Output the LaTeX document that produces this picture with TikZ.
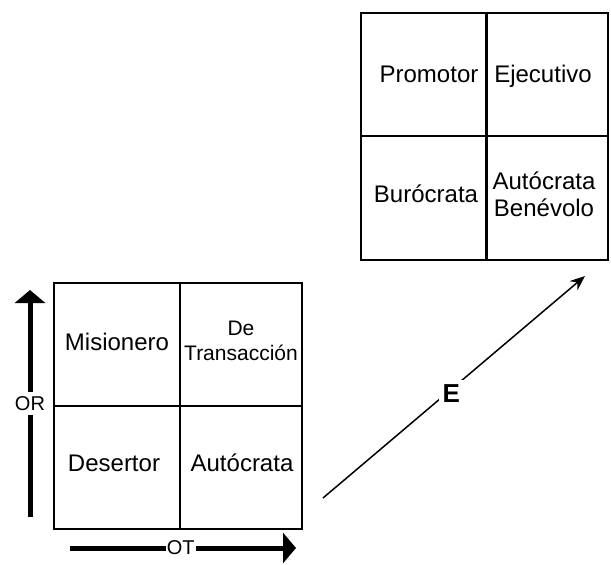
\documentclass[tikz,border=0pt]{standalone}
\usepackage{fontspec}
\setmainfont{Liberation Sans}
\usetikzlibrary{arrows.meta}

\begin{document}
\begin{tikzpicture}[x=1pt, y=-1pt,
      grid/.style={line width=2pt, draw=black},
      cell/.style={
        inner sep=0pt, align=center,
        font=\fontsize{24}{27}\selectfont
      },
      small/.style={font=\fontsize{21}{25}\selectfont},
      axis/.style={
        -{Triangle[length=13pt, width=30pt]}, line width=5pt
      },
      lbl/.style={
        fill=white, inner sep=1.5pt, font=\fontsize{20}{22}\selectfont
      },
      arr/.style={
        -{Stealth[length=15pt, width=12pt]}, line width=1.5pt
      }
    ]
    \useasboundingbox (0,0) rectangle (611,565);

    % --- Lower grid ---
    \draw[grid] (54,283) rectangle (302,529);
    \draw[grid] (180,283) -- (180,529);
    \draw[grid] (54,406) -- (302,406);

    \node[cell]        (mis)   at (117,342) {Misionero};
    \node[cell, small] (trans) at (241,341) {De\\Transacción};
    \node[cell]        (des)   at (114,463) {Desertor};
    \node[cell]        (aut)   at (242,463) {Autócrata};

    % --- Upper grid ---
    \draw[grid] (361,13) rectangle (608,260);
    \draw[grid, line width=3pt] (486,13) -- (486,260);
    \draw[grid] (361,136) -- (608,136);

    \node[cell] (prom) at (429,74)  {Promotor};
    \node[cell] (ejec) at (543,76)  {Ejecutivo};
    \node[cell] (buro) at (426,194) {Burócrata};
    \node[cell] (bene) at (544,194) {Autócrata\\Benévolo};

    % --- Axes ---
    \coordinate (orBot) at (30,517);
    \coordinate (orTop) at (30,290);
    \coordinate (otL)   at (70,548);
    \coordinate (otR)   at (296,548);

    \draw[axis] (orBot) -- node[lbl, inner ysep=4pt] (orLbl) {OR} (orTop);
    \draw[axis] (otL) -- node[lbl, inner xsep=1pt, pos=0.49] (otLbl) {OT} (otR);

    % --- Shift arrow ---
    \coordinate (eStart) at (323,498);
    \coordinate (eEnd)   at (585,276);
    \draw[arr] (eStart) -- node[lbl, pos=0.49, yshift=-4pt, inner sep=4pt,
      font=\fontsize{26}{28}\selectfont\bfseries] (eLbl) {E} (eEnd);

  \end{tikzpicture}
\end{document}
